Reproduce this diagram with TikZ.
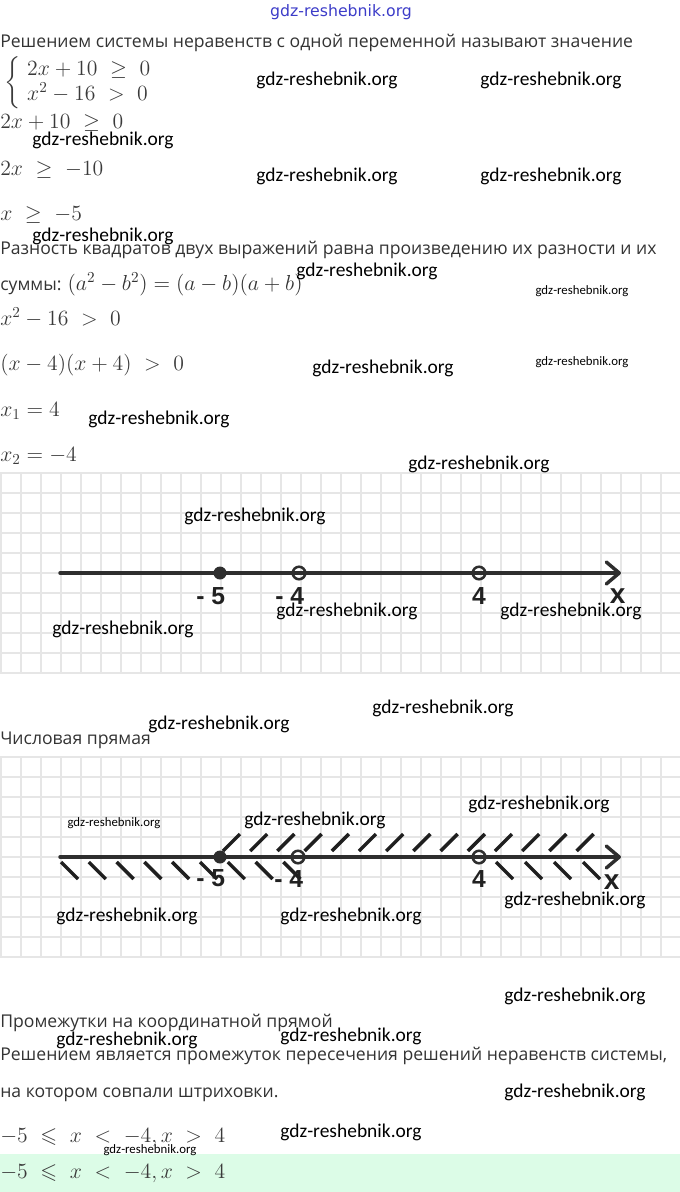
\documentclass[tikz,border=0pt]{standalone}
\usepackage{fix-cm}
\usepackage{amsmath,amssymb}
\usepackage{fontspec}
\newfontfamily\rufont{Open Sans}
\newfontfamily\wmfont{Carlito}
\newfontfamily\topfont{DejaVu Sans}
\newfontfamily\labelfont{Liberation Sans}
\usepackage{xcolor}
\usetikzlibrary{positioning}
\usetikzlibrary{arrows.meta}
\definecolor{ink}{HTML}{333333}
\definecolor{mathink}{HTML}{3A3A3A}
\definecolor{gridgray}{HTML}{E6E6E6}
\definecolor{mint}{HTML}{DCFCE7}
\definecolor{wmblue}{HTML}{3C3CC8}
\definecolor{axisgray}{HTML}{2E2E2E}
\tikzstyle{txt}=[anchor=west, inner sep=0pt, text=ink, font=\rufont\fontsize{13.2}{16}\selectfont, text height=10pt, text depth=2.8pt]
\tikzstyle{eqbox}=[anchor=west, inner sep=0pt, text=mathink, font=\fontsize{16.3}{18.75}\selectfont]
\tikzstyle{eq}=[eqbox, text height=11pt, text depth=2.8pt]
\tikzstyle{wm}=[inner sep=0pt, font=\wmfont\fontsize{14.6}{16}\selectfont]
\tikzstyle{wmsmall}=[inner sep=0pt, font=\wmfont\fontsize{9.6}{11}\selectfont]
\tikzstyle{wmtop}=[inner sep=0pt, text=wmblue, font=\topfont\fontsize{11.8}{13}\selectfont]
\tikzstyle{gridline}=[draw=gridgray, line width=0.9pt]
\tikzstyle{axisline}=[draw=axisgray, line width=2.6pt, line cap=round, -{Straight Barb[length=9.75pt, width=16.5pt, round]}]
\tikzstyle{closedpt}=[circle, fill=axisgray, inner sep=0pt, minimum size=9.75pt]
\tikzstyle{openpt}=[circle, draw=axisgray, line width=1.9pt, inner sep=0pt, minimum size=9.4pt]
\tikzstyle{ticklabel}=[inner sep=0pt, text=black!87, font=\labelfont\bfseries\fontsize{18.5}{20}\selectfont, text height=13.2pt, text depth=0pt]
\tikzstyle{varlabel}=[inner sep=0pt, text=black!87, font=\labelfont\bfseries\fontsize{21}{23}\selectfont, text height=10.9pt, text depth=0pt]
\tikzstyle{hatch}=[draw=black!88, line width=2.6pt]

\begin{document}
\begin{tikzpicture}[x=0.75pt, y=-0.75pt]
    \useasboundingbox (0,0) rectangle (680,1192);

    % grids behind the number lines
    \foreach \gx in {1,21,...,681} \draw[gridline] (\gx,473) -- (\gx,673);
    \foreach \gy in {473,493,...,673} \draw[gridline] (0,\gy) -- (680,\gy);
    \foreach \gx in {1,21,...,681} \draw[gridline] (\gx,757) -- (\gx,957);
    \foreach \gy in {757,777,...,957} \draw[gridline] (0,\gy) -- (680,\gy);

    % text and formulas
    \node[txt]   (line1)  at (0,43)  {Решением системы неравенств с одной переменной называют значение};
    \node[eqbox] (sys)    at (4,83)  {$\left\{\begin{array}{l}2x + 10\ \geq\ 0\\ x^2 - 16\ >\ 0\end{array}\right.$};
    \node[eq]    (ineq1)  at (0,123) {$2x + 10\ \geq\ 0$};
    \node[eq]    (ineq2)  at (0,170) {$2x\ \geq\ -10$};
    \node[eq]    (ineq3)  at (0,215) {$x\ \geq\ -5$};
    \node[txt]   (line2)  at (0,250) {Разность квадратов двух выражений равна произведению их разности и их};
    \node[txt]   (line3)  at (0,286) {суммы: {\fontsize{16.3}{18.75}\selectfont$(a^2 - b^2) = (a - b)(a + b)$}};
    \node[eq]    (ineq4)  at (0,320) {$x^2 - 16\ >\ 0$};
    \node[eq]    (ineq5)  at (0,365) {$(x - 4)(x + 4)\ >\ 0$};
    \node[eq]    (root1)  at (0,411) {$x_1 = 4$};
    \node[eq]    (root2)  at (0,456) {$x_2 = -4$};
    \node[txt]   (line4)  at (0,740) {Числовая прямая};
    \node[txt]   (line5)  at (0,1023) {Промежутки на координатной прямой};
    \node[txt]   (line6)  at (0,1056) {Решением является промежуток пересечения решений неравенств системы,};
    \node[txt]   (line7)  at (0,1093) {на котором совпали штриховки.};
    \node[eq]    (answer1) at (0,1137) {$-5\ \leqslant\ x\ <\ -4, x\ >\ 4$};
    \fill[mint] (0,1154) rectangle (680,1192);
    \node[eq]    (answer2) at (0,1173) {$-5\ \leqslant\ x\ <\ -4, x\ >\ 4$};

    % first number line
    \coordinate (startA) at (60,573);
    \coordinate (endA)   at (621,573);
    \draw[axisline] (startA) -- (endA);
    \node[closedpt] (m5A) at (220,573) {};
    \node[openpt]   (m4A) at (299,573) {};
    \node[openpt]   (p4A) at (479,573) {};
    \node[ticklabel, below=5.3pt of m5A, xshift=-7pt] (lm5A) {- 5};
    \node[ticklabel, below=4.9pt of m4A, xshift=-7pt] (lm4A) {- 4};
    \node[ticklabel, below=4.9pt of p4A] (lp4A) {4};
    \node[varlabel, below=12pt of endA, xshift=-2.6pt] (lxA) {x};

    % second number line with hatching
    \foreach \k in {0,...,13} \draw[hatch] ({223+27.2*\k},851) -- ++(17,-17);
    \foreach \k in {0,...,8} \draw[hatch] ({61+27.8*\k},862) -- ++(17,17);
    \foreach \k in {0,...,3} \draw[hatch] ({496+29*\k},862) -- ++(17,17);
    \coordinate (startB) at (60,857);
    \coordinate (endB)   at (621,857);
    \draw[axisline] (startB) -- (endB);
    \node[closedpt] (m5B) at (220,857) {};
    \node[openpt]   (m4B) at (298,857) {};
    \node[openpt]   (p4B) at (479,857) {};
    \node[ticklabel, below=4pt of m5B, xshift=-7pt] (lm5B) {- 5};
    \node[ticklabel, below=3.6pt of m4B, xshift=-7pt] (lm4B) {- 4};
    \node[ticklabel, below=3.6pt of p4B] (lp4B) {4};
    \node[varlabel, below=13.5pt of endB, xshift=-7.1pt] (lxB) {x};

    % watermarks
    \node[wmtop] (wmtop) at (341,12) {gdz-reshebnik.org};
    \foreach \p [count=\i] in {(327,80), (551,80), (103,140), (327,176), (551,176), (103,236), (367,271), (383,368), (159,419), (479,464), (255,516), (123,629), (347,611), (571,611), (443,708), (219,724), (315,820), (539,804), (127,916), (351,916), (575,900), (575,996), (127,1040), (351,1036), (575,1092), (351,1132)}
        \node[wm] (wm\i) at \p {gdz-reshebnik.org};
    \foreach \p [count=\i] in {(582,291), (582,362), (114,823), (150,1150)}
        \node[wmsmall] (wms\i) at \p {gdz-reshebnik.org};
\end{tikzpicture}
\end{document}
